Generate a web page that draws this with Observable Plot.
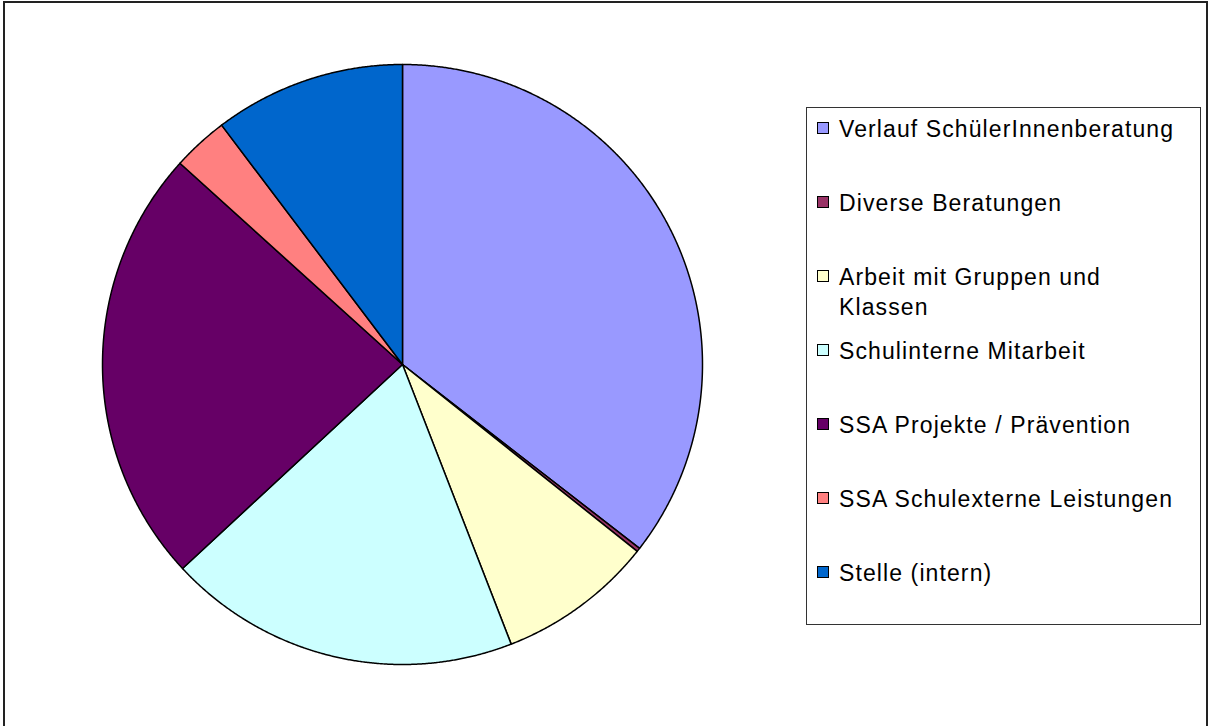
<!DOCTYPE html>
<html>
<head>
<meta charset="utf-8">
<script src="https://cdn.jsdelivr.net/npm/d3@7"></script>
<script src="https://cdn.jsdelivr.net/npm/@observablehq/plot@0.6"></script>
<style>
  html, body { margin: 0; padding: 0; background: #fff; overflow: hidden; }
  #wrap { position: relative; width: 1210px; height: 726px; overflow: hidden; }
  #frame { position: absolute; left: 3px; top: 1px; width: 1205px; height: 800px;
           border: 2px solid #222; box-sizing: border-box; pointer-events: none; }
  #chart { position: absolute; left: 0; top: 0; }
  #legend { position: absolute; left: 806px; top: 107px; width: 395px; height: 518px;
            border: 1px solid #333; box-sizing: border-box; background: #fff; }
  #legend svg { position: absolute; left: 0; top: 0; overflow: visible; }
</style>
</head>
<body>
<div id="wrap">
  <div id="chart"></div>
  <div id="legend"></div>
  <div id="frame"></div>
</div>
<script>
// ---- data ----
const categories = [
  "Verlauf SchülerInnenberatung",
  "Diverse Beratungen",
  "Arbeit mit Gruppen und Klassen",
  "Schulinterne Mitarbeit",
  "SSA Projekte / Prävention",
  "SSA Schulexterne Leistungen",
  "Stelle (intern)"
];
const values = [35.5, 0.2, 8.4, 19.0, 23.6, 3.0, 10.3];
const colors = ["#9999FF", "#993366", "#FFFFCC", "#CCFFFF", "#660066", "#FF8080", "#0066CC"];
const legendLines = [
  ["Verlauf SchülerInnenberatung"],
  ["Diverse Beratungen"],
  ["Arbeit mit Gruppen und", "Klassen"],
  ["Schulinterne Mitarbeit"],
  ["SSA Projekte / Prävention"],
  ["SSA Schulexterne Leistungen"],
  ["Stelle (intern)"]
];

// ---- pie geometry from data ----
const arcs = d3.pie().sort(null).value(d => d)(values);
const pts = [];
arcs.forEach((a, i) => {
  const cat = categories[i];
  pts.push({cat, x: 0, y: 0});
  const n = Math.max(2, Math.ceil((a.endAngle - a.startAngle) / 0.004) + 1);
  for (let k = 0; k < n; k++) {
    const t = a.startAngle + (a.endAngle - a.startAngle) * k / (n - 1);
    pts.push({cat, x: Math.sin(t), y: Math.cos(t)});
  }
});

const plot = Plot.plot({
  width: 1210,
  height: 726,
  margin: 0,
  style: {background: "transparent"},
  x: {domain: [-1, 1], range: [102, 702], axis: null},
  y: {domain: [-1, 1], range: [664, 64], axis: null},
  color: {domain: categories, range: colors},
  marks: [
    Plot.line(pts, {
      x: "x", y: "y", z: "cat", fill: "cat",
      stroke: "#000", strokeWidth: 1.5, strokeLinejoin: "round",
      curve: "linear-closed"
    })
  ]
});
document.getElementById("chart").appendChild(plot);

// ---- legend ----
const lg = d3.select("#legend").append("svg").attr("width", 395).attr("height", 518);
const fontFam = "'Liberation Sans', Arial, Helvetica, sans-serif";
legendLines.forEach((lines, i) => {
  const base = 29 + i * 74;
  lg.append("rect")
    .attr("x", 10.5).attr("y", base - 14.5)
    .attr("width", 11).attr("height", 11)
    .attr("fill", colors[i]).attr("stroke", "#000").attr("stroke-width", 1);
  lines.forEach((s, j) => {
    lg.append("text")
      .attr("x", 32).attr("y", base + j * 30)
      .attr("font-family", fontFam)
      .attr("font-size", 23)
      .attr("letter-spacing", "1.1px")
      .attr("fill", "#000")
      .text(s);
  });
});
</script>
</body>
</html>
